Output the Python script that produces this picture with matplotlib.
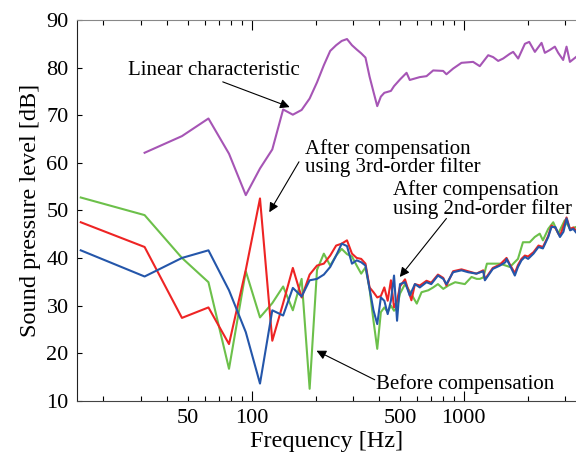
import numpy as np
import matplotlib.pyplot as plt

plt.rcParams['font.family'] = ['Liberation Serif', 'DejaVu Serif']

# low-frequency bins are multiples of 15.625 Hz, higher part read at visible wiggles
f_low = [15.625 * k for k in range(1, 32)]

before_low = [52.7, 49.0, 40.0, 34.9, 16.7, 37.2, 27.5, 30.5, 34.0, 29.0, 35.6, 12.5,
              37.5, 40.9, 38.4, 40.5, 41.9, 40.8, 40.3, 38.4, 36.7, 38.0, 33.5, 26.8,
              20.9, 28.6, 29.6, 28.6, 30.0, 28.9, 29.6]
f_before_hi = [500, 528, 556, 600, 632, 680, 717, 755, 800, 845, 910, 1011, 1087, 1150,
               1190, 1235, 1285, 1480, 1650, 1800, 1900, 2045, 2160, 2280, 2360, 2500,
               2640, 2785, 2990, 3170, 3376]
before_hi = [32.5, 34.5, 33.0, 30.4, 32.8, 33.2, 33.8, 34.5, 33.5, 34.2, 34.9, 34.5, 36.0,
             35.6, 35.6, 35.9, 38.8, 38.8, 38.1, 39.8, 43.3, 43.3, 44.4, 45.1, 43.7, 46.1,
             47.5, 45.1, 47.9, 46.1, 46.5]

third_low = [47.5, 42.3, 27.4, 29.6, 21.9, 37.5, 52.5, 22.6, 30.5, 37.9, 31.7, 36.5,
             38.4, 38.8, 40.5, 42.6, 43.0, 43.7, 40.9, 40.0, 39.8, 38.8, 33.8, 32.8,
             31.7, 32.0, 33.8, 31.0, 35.3, 29.6, 31.0]
f_third_hi = [500, 528, 566, 588, 620, 667, 702, 755, 800, 828, 890, 975, 1048, 1146, 1235,
              1257, 1370, 1480, 1590, 1650, 1740, 1800, 1870, 1940, 2010, 2130, 2250, 2360,
              2500, 2590, 2700, 2840, 3050, 3170, 3280, 3376]
third_hi = [34.0, 35.5, 31.1, 34.5, 34.2, 35.2, 34.8, 36.5, 35.8, 34.2, 37.2, 37.6, 37.2,
            36.7, 37.4, 35.5, 37.9, 38.6, 40.0, 38.6, 36.8, 38.5, 39.8, 40.5, 40.3, 41.2,
            42.6, 42.3, 44.6, 46.8, 46.3, 44.6, 48.5, 46.0, 46.4, 45.8]

second_low = [41.6, 36.1, 40.0, 41.6, 33.2, 24.4, 13.6, 29.0, 27.9, 33.7, 31.9, 35.3,
              35.6, 36.5, 38.1, 40.5, 43.0, 42.5, 38.8, 39.5, 39.1, 38.4, 33.5, 29.0,
              26.1, 31.7, 31.0, 28.2, 31.0, 36.3, 26.8]
f_second_hi = [500, 528, 556, 588, 620, 667, 702, 755, 800, 828, 890, 975, 1048, 1146, 1235,
               1257, 1370, 1480, 1570, 1590, 1650, 1740, 1800, 1870, 1940, 2010, 2130, 2250,
               2360, 2500, 2590, 2700, 2840, 2950, 3050, 3170, 3280, 3376]
second_hi = [34.5, 34.9, 32.1, 34.5, 33.8, 34.9, 34.5, 36.3, 35.6, 34.5, 37.0, 37.4, 37.0,
             36.7, 37.2, 35.3, 37.7, 38.4, 39.1, 39.8, 38.4, 36.3, 38.1, 39.5, 40.2, 39.8,
             40.9, 42.3, 42.0, 44.4, 46.5, 46.5, 44.4, 45.5, 48.3, 45.8, 46.1, 45.4]

linear_low = [62.1, 65.6, 69.3, 61.9, 53.2, 58.8, 62.8, 71.2, 70.1, 71.1, 73.5, 76.9,
              80.5, 83.5, 84.7, 85.6, 86.0, 84.7, 83.8, 83.0, 82.1, 78.1, 74.9, 71.9,
              73.9, 74.7, 74.9, 75.1, 76.1]
f_linear_hi = [500, 537, 556, 620, 667, 717, 799, 828, 891, 975, 1106, 1189, 1303, 1375,
               1452, 1532, 1648, 1709, 1804, 1941, 2034, 2163, 2325, 2410, 2545, 2687, 2786,
               2940, 3050, 3164, 3376]
linear_hi = [77.5, 78.9, 77.4, 78.0, 78.2, 79.4, 79.3, 78.6, 79.8, 81.0, 81.2, 80.3, 82.6,
             82.2, 81.4, 81.9, 82.9, 83.3, 81.9, 85.0, 85.4, 83.3, 85.2, 83.1, 83.7, 84.4,
             83.1, 81.6, 84.4, 81.2, 82.2]

fig = plt.figure(figsize=(5.76, 4.62), dpi=100)
ax = fig.add_axes([77/576, 1-400.7/462, (576-77)/576, (400.7-20)/462])

lw = 1.5
ax.plot(f_low[1:30] + f_linear_hi, linear_low + linear_hi, color='#A655B5', lw=lw)
ax.plot(f_low + f_before_hi, before_low + before_hi, color='#6CC04A', lw=lw)
ax.plot(f_low + f_third_hi, third_low + third_hi, color='#EE2424', lw=lw)
ax.plot(f_low + f_second_hi, second_low + second_hi, color='#2456AA', lw=lw)

ax.set_xscale('log')
ax.set_xlim(15.0, 3380)
ax.set_ylim(10, 90)

ax.set_xticks([100, 1000], labels=['100', '1000'])
minor = [20, 30, 40, 50, 60, 70, 80, 90, 200, 300, 400, 500, 600, 700, 800, 900, 2000, 3000]
ax.set_xticks(minor, labels=[str(m) if m in (50, 500) else '' for m in minor], minor=True)
ax.set_yticks(range(10, 91, 10))

ax.tick_params(axis='x', which='both', direction='in', top=True, labelsize=16, pad=6)
ax.tick_params(axis='x', which='major', length=7, width=0.8)
ax.tick_params(axis='x', which='minor', length=3.5, width=0.8)
ax.tick_params(axis='y', direction='in', length=3.5, width=0.8, labelsize=16, pad=6)

ax.spines['right'].set_visible(False)
ax.spines['top'].set_color('#888888')
ax.spines['left'].set_color('#222222')
ax.spines['bottom'].set_color('#444444')

ax.set_xlabel('Frequency [Hz]', fontsize=17.5, labelpad=2)
ax.set_ylabel('Sound pressure level [dB]', fontsize=17.5, labelpad=4)

arrow = dict(arrowstyle='-|>', color='black', lw=0.8, mutation_scale=14, shrinkA=0, shrinkB=0)
fs = 15
ax.text(26, 79.3, 'Linear characteristic', fontsize=fs, va='center', ha='left')
ax.annotate('', xy=(151, 71.7), xytext=(73, 77), arrowprops=arrow)

ax.text(178, 61.0, 'After compensation\nusing 3rd-order filter', fontsize=fs,
        va='center', ha='left', linespacing=0.9)
ax.annotate('', xy=(121, 49.6), xytext=(167, 60.2), arrowprops=arrow)

ax.text(463, 52.3, 'After compensation\nusing 2nd-order filter', fontsize=fs,
        va='center', ha='left', linespacing=0.9)
ax.annotate('', xy=(499, 36.0), xytext=(828, 48.3), arrowprops=arrow)

ax.text(387, 13.4, 'Before compensation', fontsize=fs, va='center', ha='left')
ax.annotate('', xy=(202, 20.5), xytext=(380, 14.4), arrowprops=arrow)

plt.savefig('out.png', dpi=100)
